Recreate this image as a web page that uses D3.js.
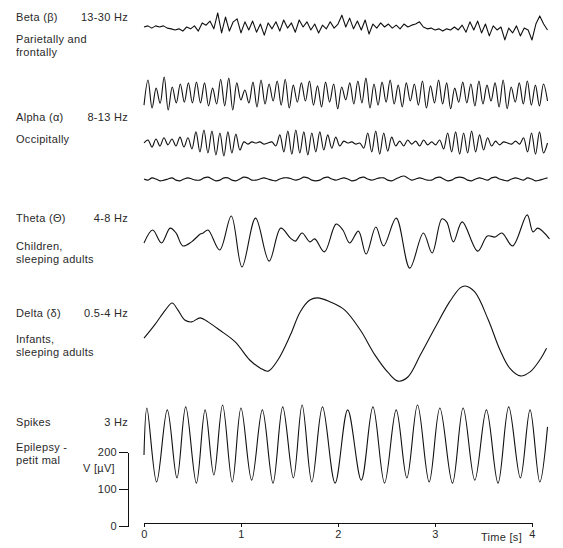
<!DOCTYPE html>
<html>
<head>
<meta charset="utf-8">
<script src="https://cdn.jsdelivr.net/npm/d3@7"></script>
<style>
  body { margin: 0; background: #fff; }
  svg text { font-family: "Liberation Sans", Arial, sans-serif; font-size: 11px; fill: #2a2a2a; letter-spacing: 0.3px; }
  .trace { fill: none; stroke: #111; stroke-width: 1.1; stroke-linejoin: round; }
  .axis path, .axis line { stroke: #111; stroke-width: 1; shape-rendering: crispEdges; }
</style>
</head>
<body>
<svg id="chart" width="563" height="548"></svg>
<script>
// rhythm labels, left column
var rhythmNames = ["Beta (\u03b2)", "Alpha (\u03b1)", "Theta (\u0398)", "Delta (\u03b4)", "Spikes"]
var rhythmBands = ["13-30 Hz", "8-13 Hz", "4-8 Hz", "0.5-4 Hz", "3 Hz"]
var rhythmNotes = [
  ["Parietally and", "frontally"],
  ["Occipitally"],
  ["Children,", "sleeping adults"],
  ["Infants,", "sleeping adults"],
  ["Epilepsy -", "petit mal"]
]

// evenly sampled traces, amplitude in uV, read from 0 to 4.16 s
var traceEnd = 4.16
var beta1V = [0, 3, -3, 3, 0, 3, -3, -5, -8, -5, -11, 0, -5, 3, -11, 11, 5, 16, -5, 38,
  -16, 27, -11, 14, 22, -16, 14, -8, 16, -14, 8, -22, 11, -5, 14, -11, 19, -3, 11, -14,
  19, 0, 14, -8, 8, -16, 5, -5, 14, -3, 8, 32, 0, 24, -5, 16, -8, 19, -19, 8,
  -3, 11, 0, 8, -3, 5, -5, 8, 0, 5, 8, 14, 0, -5, -3, -8, -5, -11, -5, -8,
  0, -8, 5, -14, 14, -8, 16, -16, 8, -24, 3, -8, 0, -35, -3, -16, 3, -24, -3, -8,
  -35, 8, 30, 8, -8]
var beta2V = [-30, 38, -38, 16, -25, 46, -43, 19, -24, 27, -22, 30, -24, 32, -24, 30, -32, 16, -27, 40,
  -32, 43, -43, 30, -16, 11, -24, 32, -35, 38, -27, 27, -19, 35, -30, 40, -38, 24, -22, 30,
  -19, 35, -30, 22, -35, 32, -22, 27, -40, 19, -16, 30, -27, 35, -24, 43, -38, 27, -30, 32,
  -22, 38, -27, 24, -35, 30, -19, 27, -30, 35, -38, 22, -24, 38, -27, 30, -40, 16, -22, 32,
  -24, 27, -32, 35, -27, 24, -19, 30, -35, 38, -40, 19, -22, 30, -27, 35, -30, 24, -32, 27, -19]
var alpha1V = [0, 8, -11, 11, -8, 14, -5, 11, -8, 16, -11, 14,
  -16, 30, -24, 35, -27, 32, -32, 27, -35, 30, -27, 24, -19,
  3, -3, 3, 0, 3, -3, 0, 3,
  -8, 22, -24, 32, -30, 35, -27, 30, -32, 27, -24, 30, -19, 22, -14, 16, -8, 5,
  0, 3, -3, 0,
  -14, 27, -24, 32, -30, 27, -22, 16,
  -8, 5, -8, 8, -3, 5, -8, 8, -5, 3, -5, 8,
  -16, 27, -24, 30, -30, 27, -27, 32, -24, 22, -19, 14,
  -8, 5, -5, 3, 0, -3, 5, -3,
  14, -24, 27, -30, 30, -27, 0]
var alpha2V = [0, -3, 3, 0, -5, -3, 0, 3, -3, -5, 0, 3, 0, -3, -3, 3, 5, 0, -5, -3,
  3, 3, -3, -5, 0, 5, 3, -3, -3, 0, 3, 0, -3, -5, 0, 3, 3, 0, -3, 0,
  5, 3, -3, -5, -3, 3, 5, 0, -3, 0, 3, 0, -5, -3, 3, 5, 0, -3, 0, 3,
  3, -3, -5, 0, 5, 8, 3, -3, 0, 3, 0, -3, -3, 3, 5, 0, -5, -3, 3, 5,
  3, -3, -5, 0, 3, 0, -3, 3, 5, 0, -3, -5, 0, 3, 0, -3, 3, 0, -5, -3, 0, 3]

// unevenly read traces: time (s) and amplitude (uV)
var thetaT = [0, 0.09, 0.18, 0.27, 0.33, 0.40, 0.49, 0.58, 0.61, 0.66, 0.78, 0.90, 1.01, 1.15, 1.29, 1.41,
  1.51, 1.56, 1.63, 1.71, 1.76, 1.86, 1.98, 2.05, 2.12, 2.21, 2.29, 2.39, 2.47, 2.60, 2.74, 2.88,
  2.97, 3.07, 3.12, 3.19, 3.28, 3.44, 3.54, 3.62, 3.69, 3.80, 3.95, 4.01, 4.06, 4.18]
var thetaV = [-8, 27, -8, 32, 19, -16, -5, 16, 19, 27, -27, 65, -73, 59, -57, 32,
  5, -3, 19, -5, 3, -32, 43, 27, -8, 24, -38, 35, -16, 59, -76, 19,
  -35, 57, 49, -5, 49, -30, 11, 8, 19, -16, 68, 22, 32, 3]
var deltaT = [0, 0.11, 0.22, 0.29, 0.35, 0.42, 0.49, 0.58, 0.66, 0.78, 0.94, 1.09, 1.20, 1.28, 1.38, 1.51,
  1.61, 1.71, 1.79, 1.92, 2.07, 2.23, 2.38, 2.52, 2.62, 2.72, 2.85, 3.00, 3.15, 3.26, 3.31, 3.41,
  3.55, 3.67, 3.77, 3.88, 3.98, 4.08, 4.15]
var deltaV = [-14, 22, 62, 81, 62, 35, 30, 41, 30, 8, -24, -73, -95, -103, -73, -5,
  57, 89, 95, 84, 62, 8, -59, -108, -130, -119, -59, 14, 84, 122, 127, 111,
  35, -46, -95, -116, -105, -73, -41]
var spikesT = [0, 0.03, 0.13, 0.24, 0.34, 0.43, 0.54, 0.63, 0.72, 0.81, 0.91, 1.00, 1.11, 1.22, 1.33, 1.43,
  1.54, 1.63, 1.73, 1.84, 1.97, 2.10, 2.24, 2.36, 2.48, 2.60, 2.71, 2.82, 2.94, 3.05, 3.18, 3.29,
  3.41, 3.53, 3.65, 3.76, 3.88, 3.98, 4.08, 4.16]
var spikesV = [-27, 100, -100, 95, -89, 103, -103, 95, -81, 108, -100, 100, -95, 95, -103, 103,
  -89, 108, -100, 103, -103, 95, -95, 103, -103, 95, -89, 108, -100, 100, -103, 100,
  -95, 95, -103, 103, -89, 95, -100, 49]

var timeTicks = [0, 1, 2, 3, 4]
var voltTicks = [0, 100, 200]

// layout
var width = 563
var height = 548
var traceBase = [27, 94, 143, 179, 240, 333, 445]
var labelTop = [21, 121, 222, 317, 426]
var noteTop = [43, 143, 250, 343, 451]

var svg = d3.select("#chart")
svg.append("rect").attr("width", width).attr("height", height).attr("fill", "#fff")

var xScale = d3.scaleLinear().domain([0, 4]).range([144, 532])
var ampScale = d3.scaleLinear().domain([0, 200]).range([0, 74])

function evenly(values) {
  return values.map(function(v, i) {
    return [i * traceEnd / (values.length - 1), v]
  })
}
function paired(ts, vs) {
  return ts.map(function(t, i) {
    return [t, vs[i]]
  })
}

var traces = [
  { pts: evenly(beta1V), base: traceBase[0], curve: d3.curveLinear },
  { pts: evenly(beta2V), base: traceBase[1], curve: d3.curveCatmullRom },
  { pts: evenly(alpha1V), base: traceBase[2], curve: d3.curveCatmullRom },
  { pts: evenly(alpha2V), base: traceBase[3], curve: d3.curveCatmullRom },
  { pts: paired(thetaT, thetaV), base: traceBase[4], curve: d3.curveCatmullRom },
  { pts: paired(deltaT, deltaV), base: traceBase[5], curve: d3.curveCatmullRom },
  { pts: paired(spikesT, spikesV), base: traceBase[6], curve: d3.curveCatmullRom }
]

svg.selectAll(".trace").data(traces).enter().append("path")
  .attr("class", "trace")
  .attr("d", function(tr) {
    return d3.line()
      .curve(tr.curve)
      .x(function(p) { return xScale(p[0]) })
      .y(function(p) { return tr.base - ampScale(p[1]) })(tr.pts)
  })

// left labels
var labels = svg.append("g")
labels.selectAll(".name").data(rhythmNames).enter().append("text")
  .attr("x", 16)
  .attr("y", function(d, i) { return labelTop[i] })
  .text(function(d) { return d })
labels.selectAll(".band").data(rhythmBands).enter().append("text")
  .attr("x", 128)
  .attr("y", function(d, i) { return labelTop[i] })
  .attr("text-anchor", "end")
  .text(function(d) { return d })
rhythmNotes.forEach(function(lines, i) {
  lines.forEach(function(line, j) {
    labels.append("text")
      .attr("x", 16)
      .attr("y", noteTop[i] + j * 13)
      .text(line)
  })
})

// axes
var voltScale = d3.scaleLinear().domain([0, 200]).range([526, 452])
var yAxis = svg.append("g")
  .attr("class", "axis")
  .attr("transform", "translate(128,0)")
  .call(d3.axisLeft(voltScale).tickValues(voltTicks).tickFormat(d3.format("d")).tickSizeInner(9).tickSizeOuter(0).tickPadding(2))
yAxis.selectAll("text").style("font-family", "\"Liberation Sans\", Arial, sans-serif").style("font-size", "11px").attr("fill", "#2a2a2a")

svg.append("text").attr("x", 83).attr("y", 472).text("V [\u00b5V]")

var xAxis = svg.append("g")
  .attr("class", "axis")
  .attr("transform", "translate(0,523)")
  .call(d3.axisBottom(xScale).tickValues(timeTicks).tickFormat(d3.format("d")).tickSizeInner(4).tickSizeOuter(0).tickPadding(3))
xAxis.selectAll("text").style("font-family", "\"Liberation Sans\", Arial, sans-serif").style("font-size", "11px").attr("fill", "#2a2a2a")

svg.append("text").attr("x", 522).attr("y", 541).attr("text-anchor", "end").text("Time [s]")
</script>
</body>
</html>
